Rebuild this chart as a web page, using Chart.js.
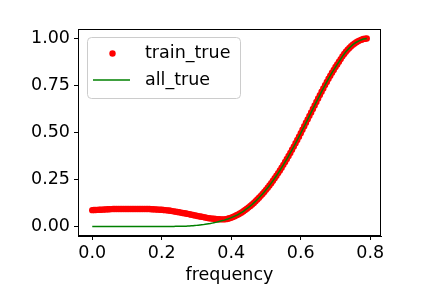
<!DOCTYPE html>
<html>
<head>
<meta charset="utf-8">
<script src="https://cdn.jsdelivr.net/npm/chart.js@4"></script>
<style>
  body { margin: 0; background: #fff; }
  #wrap { width: 432px; height: 288px; }
</style>
</head>
<body>
<div id="wrap"><canvas id="myChart" width="432" height="288"></canvas></div>
<script>
//x values (frequency)
let freq = [
  0.000, 0.005, 0.010, 0.015, 0.020, 0.025, 0.030, 0.035, 0.040, 0.045,
  0.050, 0.055, 0.060, 0.065, 0.070, 0.075, 0.080, 0.085, 0.090, 0.095,
  0.100, 0.105, 0.110, 0.115, 0.120, 0.125, 0.130, 0.135, 0.140, 0.145,
  0.150, 0.155, 0.160, 0.165, 0.170, 0.175, 0.180, 0.185, 0.190, 0.195,
  0.200, 0.205, 0.210, 0.215, 0.220, 0.225, 0.230, 0.235, 0.240, 0.245,
  0.250, 0.255, 0.260, 0.265, 0.270, 0.275, 0.280, 0.285, 0.290, 0.295,
  0.300, 0.305, 0.310, 0.315, 0.320, 0.325, 0.330, 0.335, 0.340, 0.345,
  0.350, 0.355, 0.360, 0.365, 0.370, 0.375, 0.380, 0.385, 0.390, 0.395,
  0.400, 0.405, 0.410, 0.415, 0.420, 0.425, 0.430, 0.435, 0.440, 0.445,
  0.450, 0.455, 0.460, 0.465, 0.470, 0.475, 0.480, 0.485, 0.490, 0.495,
  0.500, 0.505, 0.510, 0.515, 0.520, 0.525, 0.530, 0.535, 0.540, 0.545,
  0.550, 0.555, 0.560, 0.565, 0.570, 0.575, 0.580, 0.585, 0.590, 0.595,
  0.600, 0.605, 0.610, 0.615, 0.620, 0.625, 0.630, 0.635, 0.640, 0.645,
  0.650, 0.655, 0.660, 0.665, 0.670, 0.675, 0.680, 0.685, 0.690, 0.695,
  0.700, 0.705, 0.710, 0.715, 0.720, 0.725, 0.730, 0.735, 0.740, 0.745,
  0.750, 0.755, 0.760, 0.765, 0.770, 0.775, 0.780, 0.785, 0.790];

//train_true (red dots)
let trainTrue = [
  0.0870, 0.0875, 0.0880, 0.0885, 0.0890, 0.0895, 0.0900, 0.0905, 0.0910, 0.0915,
  0.0920, 0.0925, 0.0930, 0.0930, 0.0930, 0.0930, 0.0930, 0.0930, 0.0930, 0.0930,
  0.0930, 0.0930, 0.0930, 0.0930, 0.0930, 0.0930, 0.0930, 0.0930, 0.0930, 0.0930,
  0.0930, 0.0930, 0.0930, 0.0930, 0.0920, 0.0915, 0.0910, 0.0905, 0.0900, 0.0895,
  0.0890, 0.0880, 0.0870, 0.0860, 0.0850, 0.0835, 0.0820, 0.0805, 0.0790, 0.0775,
  0.0760, 0.0740, 0.0720, 0.0705, 0.0690, 0.0670, 0.0650, 0.0630, 0.0610, 0.0590,
  0.0570, 0.0550, 0.0530, 0.0515, 0.0500, 0.0480, 0.0460, 0.0445, 0.0430, 0.0420,
  0.0410, 0.0400, 0.0390, 0.0385, 0.0380, 0.0380, 0.0380, 0.0390, 0.0410, 0.0440,
  0.0470, 0.0510, 0.0550, 0.0595, 0.0640, 0.0695, 0.0750, 0.0810, 0.0880, 0.0950,
  0.1020, 0.1095, 0.1170, 0.1255, 0.1340, 0.1435, 0.1530, 0.1630, 0.1730, 0.1840,
  0.1950, 0.2065, 0.2180, 0.2305, 0.2430, 0.2565, 0.2700, 0.2840, 0.2980, 0.3130,
  0.3280, 0.3435, 0.3590, 0.3750, 0.3910, 0.4080, 0.4250, 0.4425, 0.4600, 0.4780,
  0.4960, 0.5145, 0.5330, 0.5515, 0.5700, 0.5885, 0.6070, 0.6255, 0.6440, 0.6625,
  0.6810, 0.6990, 0.7170, 0.7345, 0.7520, 0.7690, 0.7860, 0.8020, 0.8180, 0.8330,
  0.8480, 0.8620, 0.8760, 0.8905, 0.9050, 0.9175, 0.9300, 0.9400, 0.9500, 0.9585,
  0.9670, 0.9735, 0.9800, 0.9850, 0.9900, 0.9935, 0.9970, 0.9990, 1.0000];

//all_true (green line)
let allTrue = [
  0, 0, 0, 0, 0, 0, 0, 0, 0, 0,
  0, 0, 0, 0, 0, 0, 0, 0, 0, 0,
  0, 0, 0, 0, 0, 0, 0, 0, 0, 0,
  0, 0, 0, 0, 0, 0, 0, 0, 0, 0,
  0, 0, 0, 0, 0, 0, 0.0000, 0.0005, 0.0010, 0.0010,
  0.0010, 0.0010, 0.0010, 0.0015, 0.0020, 0.0025, 0.0030, 0.0035, 0.0040, 0.0050,
  0.0060, 0.0070, 0.0080, 0.0090, 0.0100, 0.0115, 0.0130, 0.0145, 0.0160, 0.0180,
  0.0200, 0.0220, 0.0240, 0.0265, 0.0290, 0.0315, 0.0340, 0.0370, 0.0400, 0.0435,
  0.0470, 0.0510, 0.0550, 0.0595, 0.0640, 0.0695, 0.0750, 0.0810, 0.0880, 0.0950,
  0.1020, 0.1095, 0.1170, 0.1255, 0.1340, 0.1435, 0.1530, 0.1630, 0.1730, 0.1840,
  0.1950, 0.2065, 0.2180, 0.2305, 0.2430, 0.2565, 0.2700, 0.2840, 0.2980, 0.3130,
  0.3280, 0.3435, 0.3590, 0.3750, 0.3910, 0.4080, 0.4250, 0.4425, 0.4600, 0.4780,
  0.4960, 0.5145, 0.5330, 0.5515, 0.5700, 0.5885, 0.6070, 0.6255, 0.6440, 0.6625,
  0.6810, 0.6990, 0.7170, 0.7345, 0.7520, 0.7690, 0.7860, 0.8020, 0.8180, 0.8330,
  0.8480, 0.8620, 0.8760, 0.8905, 0.9050, 0.9175, 0.9300, 0.9400, 0.9500, 0.9585,
  0.9670, 0.9735, 0.9800, 0.9850, 0.9900, 0.9935, 0.9970, 0.9990, 1.0000];

let xTicks = [0, 0.2, 0.4, 0.6, 0.8];
let yTicks = [0, 0.25, 0.5, 0.75, 1.0];

const FONT = 'DejaVu Sans';
const FSIZE = 17.5;

function points(ys) {
  return freq.map(function (x, i) {
    return { x: x, y: ys[i] };
  });
}

//box around plot + legend in the upper left
const frameAndLegend = {
  id: 'frameAndLegend',
  afterDatasetsDraw(chart) {
    const ctx = chart.ctx;
    const a = chart.chartArea;
    ctx.save();
    ctx.strokeStyle = '#000';
    ctx.lineWidth = 1;
    ctx.strokeRect(a.left + 0.5, a.top + 0.5, a.right - a.left - 1, a.bottom - a.top - 1);

    //legend box
    const bx = 87.5, by = 37.5, bw = 153, bh = 61, r = 4;
    ctx.fillStyle = 'rgba(255,255,255,0.8)';
    ctx.strokeStyle = '#cccccc';
    ctx.beginPath();
    ctx.moveTo(bx + r, by);
    ctx.arcTo(bx + bw, by, bx + bw, by + bh, r);
    ctx.arcTo(bx + bw, by + bh, bx, by + bh, r);
    ctx.arcTo(bx, by + bh, bx, by, r);
    ctx.arcTo(bx, by, bx + bw, by, r);
    ctx.closePath();
    ctx.fill();
    ctx.stroke();

    const ds = chart.data.datasets;
    ctx.fillStyle = ds[1].backgroundColor;
    ctx.beginPath();
    ctx.arc(112.5, 53.5, 3.2, 0, Math.PI * 2);
    ctx.fill();

    ctx.strokeStyle = ds[0].borderColor;
    ctx.lineWidth = 1.5;
    ctx.beginPath();
    ctx.moveTo(93, 80);
    ctx.lineTo(130, 80);
    ctx.stroke();

    ctx.fillStyle = '#000';
    ctx.font = FSIZE + 'px "' + FONT + '"';
    ctx.textBaseline = 'middle';
    ctx.textAlign = 'left';
    ctx.fillText(ds[1].label, 145, 53);
    ctx.fillText(ds[0].label, 145, 80);
    ctx.restore();
  }
};

function drawChart() {
  let ctx = document.getElementById('myChart');
  let myChart = new Chart(ctx, {
    type: 'scatter',
    data: {
      datasets: [{
        label: 'all_true',
        data: points(allTrue),
        showLine: true,
        borderColor: '#008000',
        borderWidth: 1.5,
        pointRadius: 0,
        fill: false,
        order: 1
      }, {
        label: 'train_true',
        data: points(trainTrue),
        backgroundColor: '#ff0000',
        borderWidth: 0,
        pointRadius: 3.2,
        showLine: false,
        order: 2
      }]
    },
    options: {
      responsive: false,
      animation: false,
      layout: { padding: { left: 0, top: 29, right: 51, bottom: 0 } },
      plugins: {
        legend: { display: false },
        tooltip: { enabled: false }
      },
      scales: {
        x: {
          type: 'linear',
          min: -0.041,
          max: 0.831,
          afterBuildTicks: function (s) {
            s.ticks = xTicks.map(function (v) { return { value: v }; });
          },
          afterFit: function (s) { s.height = 52; },
          grid: { drawOnChartArea: false, tickLength: 4, tickColor: '#000', color: '#000' },
          border: { color: '#000' },
          ticks: {
            color: '#000',
            padding: 3,
            font: { family: FONT, size: FSIZE },
            maxRotation: 0,
            callback: function (v) { return v.toFixed(1); }
          },
          title: {
            display: true,
            text: 'frequency',
            color: '#000',
            padding: { top: 0, bottom: 2 },
            font: { family: FONT, size: FSIZE }
          }
        },
        y: {
          type: 'linear',
          min: -0.0505,
          max: 1.0505,
          afterBuildTicks: function (s) {
            s.ticks = yTicks.map(function (v) { return { value: v }; });
          },
          afterFit: function (s) { s.width = 78; },
          grid: { drawOnChartArea: false, tickLength: 4, tickColor: '#000', color: '#000' },
          border: { color: '#000' },
          ticks: {
            color: '#000',
            padding: 4,
            font: { family: FONT, size: FSIZE },
            callback: function (v) { return v.toFixed(2); }
          }
        }
      }
    },
    plugins: [frameAndLegend]
  });
}
drawChart();
</script>
</body>
</html>
